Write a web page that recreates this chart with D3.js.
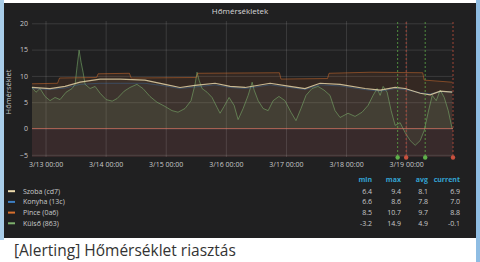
<!DOCTYPE html>
<html>
<head>
<meta charset="utf-8">
<script src="https://cdn.jsdelivr.net/npm/d3@7"></script>
<style>
  html, body { margin: 0; padding: 0; background: #fff; }
  svg { display: block; font-family: "Open Sans", sans-serif; }
</style>
</head>
<body>
<svg id="chart" width="480" height="262"></svg>
<script>
// hours are counted from 3/13 00:00
const seriesNames = ['Szoba (cd7)', 'Konyha (13c)', 'Pince (0a6)', 'Külső (863)'];
const seriesColors = ['#eedcae', '#3d7fc4', '#d8702d', '#7eb26d'];

const szoba = [[-5.4, 7.8], [1.8, 7.6], [7.8, 8.0], [13.8, 8.8], [21.8, 9.4], [29.8, 9.4], [39.7, 9.2],
  [47.7, 8.4], [53.7, 7.8], [59.7, 8.2], [67.7, 8.6], [73.7, 8.0], [79.7, 7.8], [89.7, 8.6],
  [97.6, 8.0], [103.6, 7.6], [109.6, 8.6], [117.6, 8.4], [127.6, 7.6], [133.6, 7.3], [139.6, 7.8],
  [143.6, 7.6], [149.6, 6.7], [153.6, 6.4], [157.6, 7.1], [162.4, 6.9]];

const konyha = [[-5.4, 7.6], [1.8, 7.4], [7.8, 7.7], [13.8, 8.4], [21.8, 8.6], [29.8, 8.6], [39.7, 8.6],
  [47.7, 8.1], [53.7, 7.6], [59.7, 7.9], [67.7, 8.3], [73.7, 7.8], [79.7, 7.6], [89.7, 8.3],
  [97.6, 7.8], [103.6, 7.4], [109.6, 8.3], [117.6, 8.1], [127.6, 7.4], [133.6, 7.1], [139.6, 7.6],
  [143.6, 7.4], [149.6, 6.8], [153.6, 6.6], [157.6, 7.0], [162.4, 7.0]];

const pince = [[-5.4, 8.5], [4.8, 8.6], [5.6, 9.6], [20.4, 9.7], [21.0, 10.4], [33.5, 10.5],
  [34.2, 9.6], [60.2, 9.7], [60.8, 10.5], [93.4, 10.6], [94.0, 9.4], [112.6, 9.5], [113.2, 10.5],
  [130.0, 10.7], [150.6, 10.6], [151.2, 9.2], [162.4, 8.8]];

const kulso = [[-5.4, 7.8], [-3.8, 6.9], [-2.2, 7.6], [-0.2, 6.1], [1.8, 5.3], [3.8, 5.9], [5.8, 5.5],
  [8.2, 6.9], [10.6, 7.6], [11.8, 8.4], [12.6, 11.8], [13.4, 14.9], [14.2, 12.6], [15.0, 10.7],
  [15.8, 8.4], [17.8, 7.6], [19.8, 8.0], [21.8, 6.7], [24.2, 5.5], [26.6, 5.2], [28.6, 5.7],
  [31.4, 7.1], [33.7, 7.8], [36.5, 8.4], [38.9, 7.6], [41.7, 6.1], [44.5, 5.0], [47.7, 4.2],
  [50.5, 3.4], [52.9, 3.1], [55.7, 3.8], [58.1, 5.3], [59.7, 8.4], [60.5, 10.7], [61.3, 9.2],
  [62.5, 7.6], [64.5, 6.9], [66.5, 5.9], [68.5, 4.0], [69.7, 2.9], [71.3, 4.2], [73.3, 5.9],
  [75.3, 4.4], [76.9, 1.7], [78.9, 3.8], [80.9, 6.3], [82.5, 8.8], [83.3, 7.3], [84.9, 5.3],
  [86.9, 3.8], [88.9, 3.4], [90.9, 5.3], [93.2, 6.1], [95.6, 5.3], [98.0, 3.1], [100.0, 1.5],
  [102.0, 3.8], [104.0, 6.3], [106.4, 7.6], [108.8, 8.0], [111.2, 7.3], [113.6, 6.3], [115.6, 3.4],
  [117.6, 2.1], [120.8, 2.9], [123.6, 2.3], [126.4, 3.1], [128.8, 4.4], [130.8, 6.3], [132.4, 7.6],
  [133.6, 6.3], [134.8, 8.0], [136.4, 6.9], [138.0, 3.4], [139.6, 0.6], [141.6, 1.1], [143.6, -0.8],
  [145.6, -2.3], [147.6, -3.2], [149.6, -2.3], [151.2, -0.4], [152.8, 3.1], [154.4, 6.3],
  [156.0, 5.3], [157.6, 7.3], [159.2, 5.9], [160.8, 3.4], [162.4, -0.1]];

const statCols = ['min', 'max', 'avg', 'current'];
const stats = [
  ['6.4', '9.4', '8.1', '6.9'],
  ['6.6', '8.6', '7.8', '7.0'],
  ['8.5', '10.7', '9.7', '8.8'],
  ['-3.2', '14.9', '4.9', '-0.1']
];

// alert annotations: hour, state
const alerts = [[140.6, 'ok'], [144.0, 'alerting'], [151.6, 'ok'], [162.7, 'alerting']];

const yTicks = [-5, 0, 5, 10, 15, 20];
const threshold = 0;

const base = new Date(2018, 2, 13, 0, 0);
const hr = h => new Date(base.getTime() + h * 3600e3);

const svg = d3.select('#chart');

// page frame
svg.append('rect').attr('x', 0).attr('y', 0).attr('width', 4).attr('height', 240).attr('fill', '#a9cde9');
svg.append('rect').attr('x', 476).attr('y', 0).attr('width', 4).attr('height', 262).attr('fill', '#8fbde3');
svg.append('rect').attr('x', 4).attr('y', 3).attr('width', 472).attr('height', 235).attr('fill', '#202021');

svg.append('text').attr('x', 240).attr('y', 14).attr('text-anchor', 'middle')
  .attr('font-size', 8).attr('fill', '#d8d9da').text('Hőmérsékletek');

const pLeft = 32, pRight = 453, pTop = 21, pBottom = 157;
const x = d3.scaleTime().domain([hr(-5.4), hr(162.7)]).range([pLeft, pRight]);
const y = d3.scaleLinear().domain([-5, 20]).range([154.8, 23.3]);

// threshold fill below 0
svg.append('rect').attr('x', pLeft).attr('y', y(threshold))
  .attr('width', pRight - pLeft).attr('height', pBottom - y(threshold))
  .attr('fill', 'rgba(234,112,112,0.12)');

// grid
const gridColor = 'rgba(255,255,255,0.12)';
svg.append('g').attr('transform', `translate(${pLeft},0)`)
  .call(d3.axisLeft(y).tickValues(yTicks).tickSize(-(pRight - pLeft)).tickFormat(''))
  .call(g => g.select('.domain').remove())
  .call(g => g.selectAll('line').attr('stroke', gridColor));
svg.append('g').attr('transform', `translate(0,${pBottom})`)
  .call(d3.axisBottom(x).ticks(d3.timeDay.every(1)).tickSize(-(pBottom - pTop)).tickFormat(''))
  .call(g => g.select('.domain').remove())
  .call(g => g.selectAll('line').attr('stroke', gridColor));

// tick labels
svg.append('g').attr('transform', `translate(${pLeft - 4},0)`)
  .call(d3.axisLeft(y).tickValues(yTicks).tickSize(0).tickPadding(0))
  .call(g => g.select('.domain').remove())
  .call(g => g.selectAll('text').attr('fill', '#c8c9ca').attr('font-size', 7).attr('font-family', 'Open Sans'));
svg.append('g').attr('transform', `translate(0,${pBottom + 5})`)
  .call(d3.axisBottom(x).ticks(d3.timeDay.every(1)).tickSize(0).tickPadding(0)
    .tickFormat(d3.timeFormat('%-m/%-d %H:%M')))
  .call(g => g.select('.domain').remove())
  .call(g => g.selectAll('text').attr('fill', '#c8c9ca').attr('font-size', 7).attr('font-family', 'Open Sans'));

svg.append('text').attr('transform', `translate(11,${(pTop + pBottom) / 2 + 3}) rotate(-90)`)
  .attr('text-anchor', 'middle').attr('font-size', 7.5).attr('fill', '#c8c9ca').text('Hőmérséklet');

// series
const allSeries = [szoba, konyha, pince, kulso];
const area = d3.area().x(d => x(hr(d[0]))).y0(y(0)).y1(d => y(d[1]));
const line = d3.line().x(d => x(hr(d[0]))).y(d => y(d[1]));
const fillOp = [0.05, 0.05, 0.11, 0.1];
const lineOp = [0.8, 0.35, 0.5, 0.55];

const plot = svg.append('g');
allSeries.forEach((s, i) => {
  plot.append('path').datum(s).attr('d', area)
    .attr('fill', seriesColors[i]).attr('fill-opacity', fillOp[i]);
});
[3, 2, 1, 0].forEach(i => {
  plot.append('path').datum(allSeries[i]).attr('d', line)
    .attr('fill', 'none').attr('stroke', seriesColors[i])
    .attr('stroke-width', i === 0 ? 1.2 : 1).attr('stroke-opacity', lineOp[i]);
});

// threshold line
svg.append('line').attr('x1', pLeft).attr('x2', pRight)
  .attr('y1', y(threshold)).attr('y2', y(threshold))
  .attr('stroke', 'rgba(230,120,100,0.6)').attr('stroke-width', 1);

// alert annotations
const alertColor = { ok: '#5fb04a', alerting: '#c8503e' };
alerts.forEach(([h, st]) => {
  const ax = x(hr(h));
  svg.append('line').attr('x1', ax).attr('x2', ax).attr('y1', 22).attr('y2', pBottom)
    .attr('stroke', alertColor[st]).attr('stroke-width', 1).attr('stroke-dasharray', '2,2')
    .attr('stroke-opacity', 0.75);
  svg.append('circle').attr('cx', ax).attr('cy', pBottom + 0.5).attr('r', 2.2)
    .attr('fill', alertColor[st]);
});

// legend
const legend = svg.append('g').attr('font-size', 7);
const colX = [372, 401, 428, 460];
statCols.forEach((c, j) => {
  legend.append('text').attr('x', colX[j]).attr('y', 182).attr('text-anchor', 'end')
    .attr('fill', '#33a2d1').attr('font-weight', 'bold').text(c);
});
seriesNames.forEach((n, i) => {
  const ry = 193.5 + i * 10.7;
  legend.append('line').attr('x1', 8).attr('x2', 15).attr('y1', ry - 2.3).attr('y2', ry - 2.3)
    .attr('stroke', seriesColors[i]).attr('stroke-width', 2);
  legend.append('text').attr('x', 23).attr('y', ry).attr('fill', '#c8c9ca').text(n);
  stats[i].forEach((v, j) => {
    legend.append('text').attr('x', colX[j]).attr('y', ry).attr('text-anchor', 'end')
      .attr('fill', '#c8c9ca').text(v);
  });
});

// caption
svg.append('text').attr('x', 14).attr('y', 256).attr('font-size', 15.5)
  .attr('fill', '#333').text('[Alerting] Hőmérséklet riasztás');
</script>
</body>
</html>
